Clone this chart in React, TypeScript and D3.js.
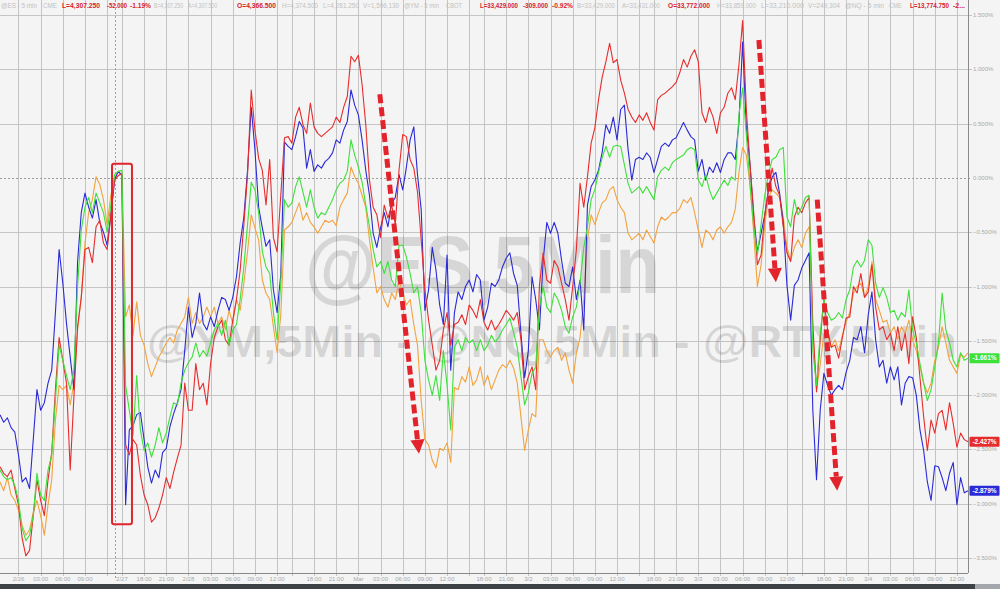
import React from 'react';
import * as d3 from 'd3';

// ---- time axis (trading hours since 2/26 00:00, overnight 17-18h gap removed) ----
const START_H = -2.5;
const STEP_H = 0.5;

// ---- series (% change) ----
const blue = [
  -2.18, -2.25, -2.21, -2.30, -2.34, -2.55, -2.80, -2.76, -2.86, -2.41,
  -1.95, -2.14, -2.07, -1.89, -1.77, -1.24, -0.66, -0.97, -1.34, -1.65,
  -1.95, -0.77, -0.32, -0.14, -0.27, -0.37, -0.20, -0.41, -0.50, -0.62,
  -0.34, -0.02, 0.06, 0.02, -3.01, -2.32, -2.28, -2.18, -2.16, -2.41,
  -2.66, -2.81, -2.69, -2.76, -2.53, -2.49, -2.29, -2.17, -2.07, -1.95,
  -1.59, -1.19, -1.47, -1.34, -1.06, -1.34, -1.40, -1.28, -1.37, -1.22,
  -1.10, -1.12, -1.22, -1.10, -0.91, -0.60, -0.36, 0.07, 0.65, 0.26,
  -0.27, -0.46, -0.63, -0.57, -1.03, -1.24, -0.89, 0.33, 0.29, 0.26,
  0.38, 0.52, 0.46, 0.09, 0.26, 0.06, 0.12, 0.09, 0.15, 0.18,
  0.23, 0.35, 0.32, 0.44, 0.52, 0.81, 0.67, 0.58, 0.35, 0.07,
  -0.16, -0.51, -0.64, -0.46, -0.32, -0.45, -0.23, -0.18, 0.03, -0.11,
  0.10, 0.35, 0.47, 0.03, -0.29, -1.22, -1.03, -0.64, -0.85, -1.17,
  -1.35, -0.71, -1.77, -1.24, -1.05, -1.12, -1.00, -0.94, -1.05, -0.89,
  -0.94, -1.31, -1.19, -0.97, -1.00, -0.94, -0.82, -0.74, -0.69, -0.88,
  -0.99, -1.43, -1.84, -1.59, -0.91, -1.12, -1.40, -0.77, -0.41, -0.51,
  -0.41, -0.51, -0.76, -0.97, -1.00, -0.82, -1.12, -0.94, -1.40, -0.25,
  -0.08, -0.02, 0.07, 0.24, 0.49, 0.41, 0.56, 0.35, 0.63, 0.67,
  0.26, -0.02, 0.17, 0.19, 0.17, 0.23, 0.19, 0.05, 0.17, 0.29,
  0.32, 0.29, 0.35, 0.37, 0.44, 0.51, 0.44, 0.38, 0.35, 0.06,
  0.17, -0.02, 0.10, 0.05, 0.14, 0.05, 0.17, 0.23, 0.23, 0.17,
  0.51, 1.25, 0.47, 0.12, -0.36, -0.68, -0.51, -0.34, -0.11, 0.01,
  0.05, -0.14, -0.41, -0.99, -1.31, -0.99, -0.94, -0.83, -0.76, -0.69,
  -2.14, -2.78, -2.14, -1.80, -1.91, -2.00, -1.95, -1.91, -1.95, -1.79,
  -1.68, -1.47, -1.49, -1.37, -1.61, -1.26, -1.05, -1.49, -1.74, -1.68,
  -1.89, -1.74, -1.86, -1.74, -2.09, -1.89, -1.83, -1.84, -2.00, -2.32,
  -2.51, -2.80, -2.97, -2.65, -2.66, -2.76, -2.88, -2.72, -2.62, -3.01,
  -2.76, -2.90, -2.88,
];

const red = [
  -2.66, -2.72, -2.75, -2.69, -2.86, -3.01, -3.32, -3.48, -3.43, -3.11,
  -2.78, -2.97, -3.11, -2.78, -2.53, -1.95, -1.47, -1.68, -1.89, -2.69,
  -2.02, -1.37, -1.10, -0.66, -0.64, -0.78, -0.45, -0.39, -0.60, -0.66,
  -0.34, -0.02, 0.02, 0.04, -2.46, -2.55, -2.41, -2.46, -2.74, -2.92,
  -3.01, -3.17, -3.13, -3.04, -2.92, -2.76, -2.86, -2.71, -2.58, -2.46,
  -1.89, -2.14, -2.14, -1.71, -1.95, -1.89, -2.09, -1.71, -1.47, -1.37,
  -1.31, -1.49, -1.54, -1.31, -1.12, -0.85, -0.43, 0.03, 0.81, 0.44,
  0.18, 0.07, -0.25, 0.17, -0.55, -0.68, -0.16, 0.37, 0.38, 0.32,
  0.56, 0.65, 0.49, 0.41, 0.69, 0.47, 0.41, 0.38, 0.41, 0.44,
  0.47, 0.56, 0.51, 0.65, 0.75, 1.12, 1.07, 1.13, 0.86, 0.49,
  -0.02, -0.27, -0.34, -0.55, -0.25, -0.37, -0.25, -0.43, 0.07, 0.40,
  0.38, 0.17, 0.09, -0.13, -0.57, -1.03, -1.31, -1.54, -1.77, -1.68,
  -1.40, -1.24, -1.54, -1.35, -1.33, -1.26, -1.35, -1.17, -1.22, -1.29,
  -1.12, -1.33, -1.40, -1.31, -1.40, -1.35, -1.29, -1.22, -1.26, -1.31,
  -1.24, -1.49, -1.95, -1.83, -1.74, -1.95, -0.99, -0.69, -0.94, -0.97,
  -0.76, -0.82, -0.97, -1.12, -1.31, -1.00, -0.66, -0.05, -0.27, 0.01,
  0.32, 0.46, 0.72, 0.93, 1.07, 1.24, 1.06, 1.09, 0.90, 0.78,
  0.63, 0.56, 0.51, 0.58, 0.53, 0.60, 0.51, 0.44, 0.72, 0.76,
  0.78, 0.81, 0.84, 0.88, 0.97, 1.09, 1.02, 1.12, 1.18, 1.07,
  0.60, 0.51, 0.65, 0.56, 0.41, 0.60, 0.65, 0.78, 0.83, 0.72,
  1.04, 1.45, 0.63, 0.12, -0.32, -0.80, -0.71, -0.34, -0.11, 0.09,
  -0.08, -0.16, -0.45, -0.69, -0.77, -0.36, -0.27, -0.32, -0.23, -0.18,
  -1.35, -1.97, -1.49, -1.12, -1.40, -1.56, -1.54, -1.66, -1.47, -1.29,
  -1.28, -1.00, -1.06, -0.88, -1.10, -1.05, -0.80, -1.19, -1.40, -1.37,
  -1.49, -1.43, -1.59, -1.37, -1.59, -1.43, -1.71, -1.28, -1.47, -1.84,
  -2.20, -2.51, -2.23, -2.35, -2.17, -2.14, -2.32, -2.07, -2.26, -2.48,
  -2.35, -2.41, -2.43,
];

const green = [
  -2.69, -2.75, -2.78, -2.76, -2.83, -2.97, -3.23, -3.34, -3.29, -3.11,
  -2.72, -2.92, -2.97, -2.69, -2.55, -2.05, -1.54, -1.68, -1.82, -1.95,
  -1.77, -0.99, -0.48, -0.27, -0.18, -0.32, -0.14, -0.23, -0.32, -0.50,
  -0.25, 0.03, 0.06, 0.07, -1.91, -2.14, -2.37, -1.82, -2.32, -2.51,
  -2.44, -2.57, -2.46, -2.30, -2.44, -2.35, -2.20, -2.07, -2.09, -1.89,
  -1.77, -1.70, -1.65, -1.52, -1.65, -1.59, -1.64, -1.52, -1.40, -1.34,
  -1.45, -1.31, -1.54, -1.40, -1.35, -1.12, -0.82, -0.43, -0.04, -0.11,
  -0.32, -0.68, -0.82, -0.88, -1.24, -1.49, -0.96, -0.20, -0.27, -0.23,
  -0.08, 0.01, -0.13, -0.27, -0.11, -0.27, -0.37, -0.32, -0.34, -0.27,
  -0.20, -0.11, -0.05, -0.02, 0.06, 0.35, 0.21, 0.10, -0.04, -0.25,
  -0.45, -0.66, -0.82, -0.77, -0.88, -0.77, -0.94, -1.00, -0.62, -0.62,
  -0.73, -0.88, -1.06, -1.00, -1.24, -1.68, -1.86, -2.00, -1.82, -2.05,
  -1.59, -1.91, -2.32, -1.56, -1.49, -1.59, -1.47, -1.52, -1.49, -1.59,
  -1.49, -1.59, -1.54, -1.45, -1.51, -1.47, -1.40, -1.35, -1.29, -1.42,
  -1.56, -1.83, -2.09, -1.98, -1.80, -1.74, -1.19, -1.00, -1.19, -1.24,
  -1.06, -1.12, -1.22, -1.37, -1.43, -1.28, -1.19, -0.97, -0.64, -0.45,
  -0.20, -0.11, 0.05, 0.19, 0.29, 0.19, 0.29, 0.30, 0.29, 0.12,
  -0.05, -0.14, -0.11, -0.08, -0.14, -0.08, -0.14, -0.20, 0.01, 0.07,
  0.10, 0.07, 0.14, 0.17, 0.19, 0.21, 0.26, 0.28, 0.26, -0.02,
  -0.08, 0.03, -0.11, -0.20, -0.14, -0.08, -0.02, -0.07, 0.01, -0.02,
  0.58, 0.83, 0.40, -0.06, -0.45, -0.71, -0.43, -0.16, 0.04, 0.17,
  0.19, 0.26, 0.28, -0.36, -0.45, -0.20, -0.34, -0.27, -0.18, -0.16,
  -1.59, -1.91, -1.43, -1.12, -1.24, -1.31, -1.29, -1.24, -1.29, -1.12,
  -1.03, -0.82, -0.76, -0.82, -0.76, -0.57, -0.62, -0.97, -1.10, -1.01,
  -1.10, -1.24, -1.22, -1.31, -1.24, -1.28, -1.03, -1.40, -1.52, -1.71,
  -1.89, -2.05, -1.95, -1.74, -1.52, -1.06, -1.40, -1.52, -1.68, -1.74,
  -1.61, -1.68, -1.66,
];

const orange = [
  -2.80, -2.88, -2.76, -2.92, -2.97, -3.06, -3.20, -3.29, -3.24, -3.08,
  -2.97, -3.11, -3.29, -3.01, -2.78, -2.23, -1.91, -1.95, -1.91, -2.09,
  -1.89, -1.40, -1.10, -0.60, -0.32, -0.20, 0.01, -0.06, -0.20, -0.43,
  -0.16, 0.00, 0.06, 0.03, -1.28, -1.17, -1.45, -1.14, -1.45, -1.54,
  -1.71, -1.83, -1.74, -1.65, -1.59, -1.52, -1.47, -1.52, -1.40, -1.34,
  -1.28, -1.10, -1.34, -1.24, -1.34, -1.28, -1.19, -1.28, -1.19, -1.34,
  -1.28, -1.40, -1.22, -1.34, -1.12, -1.22, -0.97, -0.68, -0.34, -0.46,
  -0.57, -0.94, -1.06, -1.12, -1.37, -1.61, -1.26, -0.48, -0.45, -0.41,
  -0.32, -0.23, -0.39, -0.32, -0.41, -0.45, -0.51, -0.45, -0.39, -0.41,
  -0.39, -0.44, -0.27, -0.20, -0.14, 0.10, 0.01, -0.05, -0.16, -0.27,
  -0.57, -0.83, -1.06, -1.00, -1.12, -1.19, -1.06, -1.12, -0.94, -1.06,
  -1.17, -1.12, -1.35, -1.54, -2.05, -2.41, -2.46, -2.60, -2.67, -2.49,
  -2.51, -2.44, -2.62, -1.93, -1.95, -1.83, -1.88, -1.74, -1.91, -1.86,
  -1.74, -1.91, -1.82, -1.95, -1.86, -1.77, -1.72, -1.75, -1.68, -1.75,
  -1.89, -2.20, -2.51, -2.32, -2.17, -2.20, -1.49, -1.49, -1.59, -1.65,
  -1.59, -1.56, -1.68, -1.61, -1.77, -1.89, -1.61, -1.47, -1.12, -0.57,
  -0.34, -0.43, -0.32, -0.23, -0.20, -0.11, -0.08, -0.20, -0.27, -0.32,
  -0.51, -0.57, -0.54, -0.51, -0.57, -0.48, -0.54, -0.60, -0.45, -0.36,
  -0.39, -0.36, -0.32, -0.32, -0.28, -0.20, -0.23, -0.18, -0.32, -0.48,
  -0.64, -0.48, -0.51, -0.57, -0.48, -0.45, -0.51, -0.45, -0.41, -0.29,
  0.05, 0.28, 0.21, -0.06, -0.51, -1.00, -0.80, -0.43, -0.18, -0.11,
  -0.14, -0.18, -0.36, -0.64, -0.76, -0.64, -0.57, -0.64, -0.51, -0.45,
  -1.40, -1.95, -1.72, -1.43, -1.45, -1.56, -1.49, -1.59, -1.45, -1.33,
  -1.24, -1.06, -1.00, -0.97, -1.10, -1.00, -0.77, -1.12, -1.22, -1.33,
  -1.31, -1.43, -1.37, -1.49, -1.37, -1.43, -1.31, -1.49, -1.59, -1.74,
  -1.89, -1.98, -1.89, -1.68, -1.56, -1.37, -1.52, -1.68, -1.74, -1.80,
  -1.63, -1.65, -1.61,
];

// ---- axes ----
const tickHours = [0, 3, 6, 9, 14, 17, 20, 23, 26, 29, 32, 35, 40, 43, 46, 49, 52, 55, 58, 63, 66, 69, 72, 75, 78, 81, 86, 89, 92, 95, 98, 101, 104, 109, 112, 115, 118, 121, 124, 127];
const tickLabels = ['2/26', '03:00', '06:00', '09:00', '2/27', '18:00', '21:00', '2/28', '03:00', '06:00', '09:00', '12:00', '18:00', '21:00', 'Mar', '03:00', '06:00', '09:00', '12:00', '18:00', '21:00', '3/2', '03:00', '06:00', '09:00', '12:00', '18:00', '21:00', '3/3', '03:00', '06:00', '09:00', '12:00', '18:00', '21:00', '3/4', '03:00', '06:00', '09:00', '12:00'];
const minorGridHours = [12, 37, 61, 84, 106];
const gapHour = 13;
const yTickValues = [1.5, 1, 0.5, 0, -0.5, -1, -1.5, -2, -2.5, -3, -3.5];

const endLabels = [
  { key: 'green', text: '-1.661%' },
  { key: 'red', text: '-2.427%' },
  { key: 'blue', text: '-2.879%' },
];

// annotations in data coordinates (hours, %)
const arrows = [
  { h0: 48.9, v0: 0.77, h1: 54.2, v1: -2.54 },
  { h0: 100.2, v0: 1.27, h1: 102.5, v1: -0.96 },
  { h0: 108.1, v0: -0.2, h1: 110.8, v1: -2.88 },
];
const boxArea = { h0: 12.66, h1: 15.36, v0: 0.13, v1: -3.19 };

const header = [
  { t: '@ES - 5 min', r: false, x: 1, w: 36 },
  { t: 'CME', r: false, x: 43, w: 14 },
  { t: 'L=4,307.250', r: true, x: 62, w: 38 },
  { t: '-52.000', r: true, x: 107, w: 20 },
  { t: '-1.19%', r: true, x: 130, w: 21 },
  { t: 'B=4,307.250', r: false, x: 154, w: 29 },
  { t: 'A=4,307.500', r: false, x: 188, w: 29 },
  { t: 'O=4,366.500', r: true, x: 237, w: 39 },
  { t: 'H=4,374.500', r: false, x: 282, w: 36 },
  { t: 'L=4,281.250', r: false, x: 323, w: 36 },
  { t: 'V=1,596,130', r: false, x: 363, w: 36 },
  { t: '@YM - 5 min', r: false, x: 404, w: 35 },
  { t: 'CBOT', r: false, x: 446, w: 16 },
  { t: 'L=33,429.000', r: true, x: 480, w: 38 },
  { t: '-309.000', r: true, x: 523, w: 25 },
  { t: '-0.92%', r: true, x: 552, w: 21 },
  { t: 'B=33,429.000', r: false, x: 577, w: 38 },
  { t: 'A=33,431.000', r: false, x: 622, w: 38 },
  { t: 'O=33,772.000', r: true, x: 668, w: 42 },
  { t: 'H=33,859.000', r: false, x: 717, w: 39 },
  { t: 'L=33,210.000', r: false, x: 761, w: 43 },
  { t: 'V=249,304', r: false, x: 808, w: 32 },
  { t: '@NQ - 5 min', r: false, x: 845, w: 39 },
  { t: 'CME', r: false, x: 889, w: 13 },
  { t: 'L=13,774.750', r: true, x: 910, w: 39 },
  { t: '-2...', r: true, x: 953, w: 12 },
];

const COLORS: Record<string, string> = {
  orange: '#f2a23e',
  blue: '#2a2ad6',
  red: '#e62c2c',
  green: '#3ee03a',
};

export default function App() {
  const W = 1000;
  const H = 589;
  const plotRight = 968;
  const plotBottom = 573;
  const n = blue.length;
  const hours = blue.map((_, i) => START_H + i * STEP_H);
  const x = d3.scaleLinear().domain([START_H, START_H + STEP_H * (n - 1)]).range([0, plotRight]);
  const y = d3.scaleLinear().domain([1.5, -3.5]).range([15, 558]);
  const line = d3
    .line<number>()
    .x((_, i) => x(hours[i]))
    .y((d) => y(d));
  const series: [string, number[]][] = [
    ['orange', orange],
    ['blue', blue],
    ['red', red],
    ['green', green],
  ];
  const seriesMap: Record<string, number[]> = { orange, blue, red, green };
  const crisp = (v: number) => Math.round(v) + 0.5;
  const font = "'Liberation Sans', Arial, Helvetica, sans-serif";

  return (
    <svg
      width={W}
      height={H}
      viewBox={`0 0 ${W} ${H}`}
      style={{ position: 'fixed', left: 0, top: 0, display: 'block' }}
      fontFamily={font}
    >
      <rect x={0} y={0} width={W} height={H} fill="#f4f4f4" />

      {/* vertical grid */}
      {[...tickHours, ...minorGridHours].map((h, i) => (
        <line key={'vg' + i} x1={crisp(x(h))} x2={crisp(x(h))} y1={0} y2={plotBottom + 3} stroke="#c4c4c4" strokeWidth={1} />
      ))}
      {/* horizontal grid */}
      {yTickValues.map((v, i) => (
        <line
          key={'hg' + i}
          x1={0}
          x2={plotRight + 4}
          y1={crisp(y(v))}
          y2={crisp(y(v))}
          stroke={v === 0 ? '#9c9c9c' : '#c4c4c4'}
          strokeDasharray={v === 0 ? '2,2' : undefined}
          strokeWidth={1}
        />
      ))}
      {/* session gap marker */}
      <line x1={crisp(x(gapHour))} x2={crisp(x(gapHour))} y1={0} y2={plotBottom + 6} stroke="#a0a0a0" strokeDasharray="2,2" />

      {/* watermarks */}
      <text x={305} y={293} fontSize={82} fontWeight="bold" fill="#000" fillOpacity={0.12} textLength={355} lengthAdjust="spacingAndGlyphs">
        @ES,5Min
      </text>
      <text x={147} y={357} fontSize={44} fontWeight="bold" fill="#000" fillOpacity={0.12} textLength={810} lengthAdjust="spacingAndGlyphs">
        @YM,5Min - @NQ,5Min - @RTY,5Min
      </text>

      {/* series */}
      {series.map(([k, vals]) => (
        <path key={k} d={line(vals) || ''} fill="none" stroke={COLORS[k]} strokeWidth={1.1} strokeLinejoin="round" />
      ))}

      {/* highlight box */}
      <rect
        x={x(boxArea.h0)}
        y={y(boxArea.v0)}
        width={x(boxArea.h1) - x(boxArea.h0)}
        height={y(boxArea.v1) - y(boxArea.v0)}
        rx={2}
        fill="none"
        stroke="#e0262c"
        strokeWidth={2}
      />

      {/* arrows */}
      {arrows.map((a, i) => {
        const x0 = x(a.h0), y0 = y(a.v0), x1 = x(a.h1), y1 = y(a.v1);
        const dx = x1 - x0, dy = y1 - y0;
        const len = Math.sqrt(dx * dx + dy * dy);
        const ux = dx / len, uy = dy / len;
        const head = 14;
        const bx = x1 - ux * head, by = y1 - uy * head;
        const px = -uy, py = ux;
        const hw = 7;
        return (
          <g key={'ar' + i}>
            <line x1={x0} y1={y0} x2={bx} y2={by} stroke="#e3232b" strokeWidth={5} strokeDasharray="9,4" />
            <polygon points={`${x1},${y1} ${bx + px * hw},${by + py * hw} ${bx - px * hw},${by - py * hw}`} fill="#e3232b" />
          </g>
        );
      })}

      {/* right axis */}
      <line x1={plotRight + 0.5} x2={plotRight + 0.5} y1={0} y2={plotBottom} stroke="#8a8a8a" />
      {yTickValues.map((v, i) => (
        <text key={'yl' + i} x={plotRight + 5} y={y(v) + 2} fontSize={6} fill="#a9a9a9">
          {d3.format('.3f')(v) + '%'}
        </text>
      ))}

      {/* bottom axis */}
      <line x1={0} x2={plotRight} y1={plotBottom + 0.5} y2={plotBottom + 0.5} stroke="#8a8a8a" />
      {tickHours.map((h, i) => (
        <text key={'xl' + i} x={x(h)} y={581} fontSize={6} fill="#a9a9a9" textAnchor="middle">
          {tickLabels[i]}
        </text>
      ))}

      {/* last value labels */}
      {endLabels.map((l) => {
        const vals = seriesMap[l.key];
        const yy = y(vals[vals.length - 1]);
        return (
          <g key={'el' + l.key}>
            <rect x={969.5} y={yy - 5} width={30} height={10} fill={COLORS[l.key]} rx={1} />
            <text x={984.5} y={yy + 2.2} fontSize={6.5} fontWeight="bold" fill="#fff" textAnchor="middle">
              {l.text}
            </text>
          </g>
        );
      })}

      {/* header */}
      {header.map((s, i) => (
        <text
          key={'hd' + i}
          x={s.x}
          y={7.5}
          fontSize={6.5}
          fontWeight={s.r ? 'bold' : 'normal'}
          fill={s.r ? '#d8232a' : '#c2c2c2'}
          textLength={s.w}
          lengthAdjust="spacingAndGlyphs"
        >
          {s.t}
        </text>
      ))}

      {/* bottom strip */}
      <rect x={0} y={584} width={975} height={5} fill="#3d4247" />
      <rect x={975} y={584} width={25} height={5} fill="#a4a8ac" />
    </svg>
  );
}
